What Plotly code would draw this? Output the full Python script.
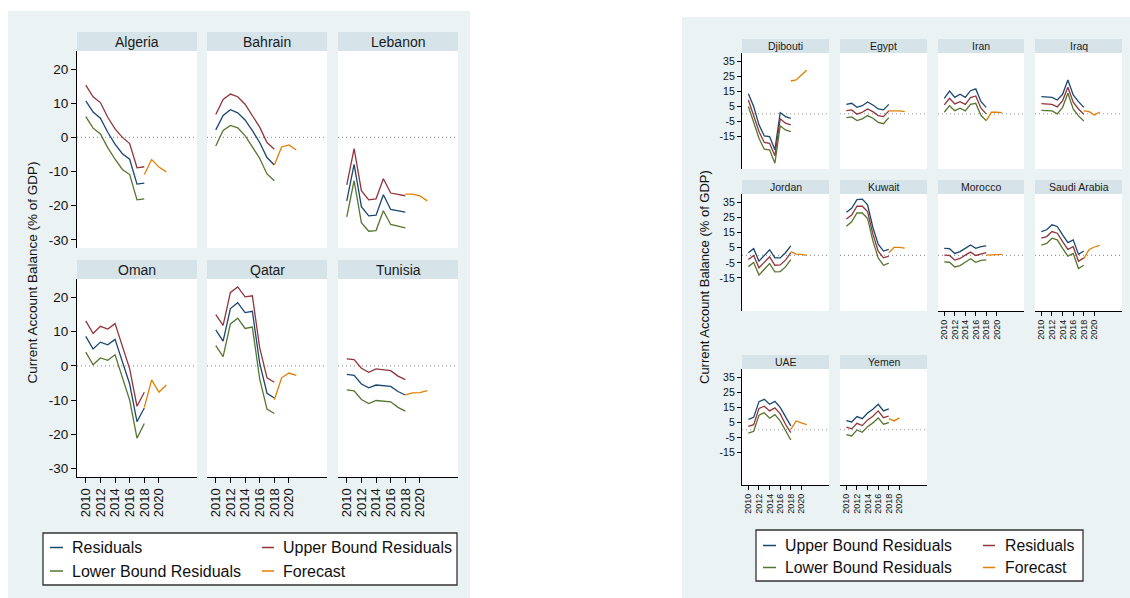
import plotly.graph_objects as go

W, H = 1130, 598
YEARS = list(range(2010, 2019))
FC_START = 2018

# ---------------- Left chart data ----------------
left_countries = ["Algeria", "Bahrain", "Lebanon", "Oman", "Qatar", "Tunisia"]
left_upper = {
    "Algeria": [15.3, 11.9, 10.2, 5.9, 2.5, 0.0, -1.8, -8.9, -8.6],
    "Bahrain": [6.7, 11.1, 12.7, 11.9, 9.7, 6.4, 3.0, -1.5, -3.5],
    "Lebanon": [-13.9, -3.3, -15.6, -18.3, -18.0, -12.1, -16.3, -16.8, -17.1],
    "Oman": [13.1, 9.4, 11.5, 10.7, 12.3, 5.5, -0.9, -11.8, -7.7],
    "Qatar": [14.9, 11.8, 21.4, 23.0, 20.1, 20.4, 5.3, -3.5, -4.8],
    "Tunisia": [2.0, 1.8, -0.7, -1.9, -0.9, -1.1, -1.4, -3.0, -4.0],
}
left_resid = {
    "Algeria": [10.7, 7.4, 5.6, 1.5, -2.0, -4.8, -6.4, -13.7, -13.4],
    "Bahrain": [2.2, 6.4, 8.1, 7.2, 5.1, 2.0, -1.5, -5.9, -8.1],
    "Lebanon": [-18.6, -7.9, -20.3, -23.0, -22.8, -16.8, -21.1, -21.5, -21.9],
    "Oman": [8.6, 4.9, 6.9, 6.1, 7.7, 1.1, -5.3, -16.3, -12.3],
    "Qatar": [10.5, 7.2, 16.7, 18.4, 15.5, 15.9, 0.8, -8.0, -9.4],
    "Tunisia": [-2.5, -2.8, -5.3, -6.4, -5.6, -5.7, -6.0, -7.5, -8.5],
}
left_lower = {
    "Algeria": [6.1, 2.7, 1.0, -3.0, -6.4, -9.4, -10.9, -18.3, -18.0],
    "Bahrain": [-2.5, 2.0, 3.5, 2.8, 0.5, -2.7, -6.1, -10.7, -12.7],
    "Lebanon": [-23.3, -12.7, -25.0, -27.5, -27.3, -21.5, -25.5, -26.1, -26.5],
    "Oman": [4.0, 0.3, 2.3, 1.6, 3.2, -3.5, -10.0, -21.1, -16.8],
    "Qatar": [5.9, 2.7, 12.2, 13.9, 10.9, 11.3, -3.8, -12.6, -13.9],
    "Tunisia": [-7.0, -7.3, -9.8, -11.0, -10.1, -10.2, -10.5, -12.1, -13.2],
}
left_forecast = {
    "Algeria": [-10.9, -6.5, -8.7, -10.1],
    "Bahrain": [-8.1, -2.8, -2.2, -3.7],
    "Lebanon": [-16.6, -16.6, -17.1, -18.6],
    "Oman": [-12.1, -4.1, -7.7, -5.6],
    "Qatar": [-9.9, -3.5, -2.1, -2.8],
    "Tunisia": [-8.5, -7.9, -7.8, -7.2],
}
left_yticks = [20, 10, 0, -10, -20, -30]

# ---------------- Right chart data ----------------
right_countries = ["Djibouti", "Egypt", "Iran", "Iraq", "Jordan", "Kuwait",
                   "Morocco", "Saudi Arabia", "UAE", "Yemen"]
right_upper = {
    "Djibouti": [13.4, 4.8, -7.4, -14.8, -15.2, -24.1, 0.8, -1.9, -3.0],
    "Egypt": [6.3, 7.0, 4.3, 5.4, 7.9, 5.9, 3.2, 2.6, 6.3],
    "Iran": [10.3, 15.2, 11.0, 13.0, 11.0, 15.4, 16.6, 8.1, 4.3],
    "Iraq": [11.4, 11.2, 11.0, 9.2, 13.0, 22.6, 12.6, 8.1, 4.3],
    "Jordan": [1.7, 4.4, -3.9, 0.1, 3.7, -1.7, -1.7, 1.7, 6.2],
    "Kuwait": [28.5, 31.1, 36.9, 37.2, 33.4, 18.4, 7.3, 2.8, 3.9],
    "Morocco": [4.6, 4.4, 1.2, 2.4, 4.6, 6.8, 4.6, 5.7, 6.2],
    "Saudi Arabia": [15.7, 16.9, 20.2, 19.1, 13.5, 8.4, 10.2, 0.6, 2.8],
    "UAE": [7.0, 8.3, 18.8, 20.3, 17.0, 19.0, 15.0, 8.3, 2.6],
    "Yemen": [6.1, 5.2, 8.8, 7.4, 11.2, 13.7, 17.0, 12.6, 13.9],
}
right_resid = {
    "Djibouti": [9.2, -0.8, -11.9, -19.2, -19.7, -28.1, -3.4, -6.3, -7.4],
    "Egypt": [2.1, 2.6, -0.3, 1.0, 3.2, 1.4, -1.2, -1.9, 1.9],
    "Iran": [5.9, 10.3, 6.6, 8.1, 6.3, 10.8, 11.9, 3.7, -0.1],
    "Iraq": [6.8, 6.6, 6.3, 4.6, 8.8, 17.7, 7.7, 3.2, -0.3],
    "Jordan": [-2.8, -0.1, -8.3, -4.6, -1.0, -6.6, -6.4, -3.2, 1.7],
    "Kuwait": [24.0, 26.7, 32.5, 32.5, 28.9, 14.0, 2.8, -1.7, -0.5],
    "Morocco": [0.1, -0.1, -3.2, -2.1, 0.1, 2.1, -0.1, 1.0, 1.7],
    "Saudi Arabia": [11.3, 12.4, 15.7, 14.6, 9.0, 3.9, 5.7, -3.9, -1.7],
    "UAE": [2.3, 3.4, 14.3, 15.7, 12.6, 14.6, 10.6, 3.7, -1.9],
    "Yemen": [1.7, 0.6, 4.3, 2.8, 6.6, 9.0, 12.6, 8.1, 9.2],
}
right_lower = {
    "Djibouti": [4.8, -5.2, -16.3, -23.7, -24.1, -33.0, -8.1, -10.8, -11.9],
    "Egypt": [-2.6, -2.1, -4.6, -3.4, -1.2, -3.0, -5.7, -6.6, -2.6],
    "Iran": [1.0, 5.4, 2.1, 3.7, 1.9, 6.3, 7.0, -1.2, -4.6],
    "Iraq": [2.3, 2.1, 1.9, -0.1, 4.3, 13.7, 3.2, -1.4, -4.8],
    "Jordan": [-7.5, -4.8, -13.1, -9.0, -5.4, -11.0, -10.8, -7.7, -2.8],
    "Kuwait": [19.3, 22.2, 28.0, 28.0, 24.4, 9.5, -1.7, -6.6, -5.2],
    "Morocco": [-4.4, -4.6, -7.7, -6.8, -4.6, -2.3, -4.6, -3.4, -3.0],
    "Saudi Arabia": [6.8, 7.9, 11.3, 10.2, 4.6, -0.6, 1.2, -8.8, -6.6],
    "UAE": [-2.3, -1.0, 9.7, 11.4, 7.7, 10.1, 5.9, -0.8, -6.8],
    "Yemen": [-3.2, -4.1, -0.1, -1.7, 2.1, 4.6, 7.9, 3.7, 4.8],
}
right_forecast = {
    "Djibouti": [21.9, 22.6, 25.9, 29.0],
    "Egypt": [1.9, 2.1, 1.9, 1.4],
    "Iran": [-4.6, 1.0, 1.0, 0.8],
    "Iraq": [1.9, 1.4, -0.8, 1.2],
    "Jordan": [2.4, 0.8, 0.6, -0.1],
    "Kuwait": [1.7, 5.3, 5.3, 4.8],
    "Morocco": [0.1, 0.1, 0.6, 0.6],
    "Saudi Arabia": [-2.3, 3.9, 5.5, 6.6],
    "UAE": [0.3, 5.9, 4.6, 3.4],
    "Yemen": [7.4, 5.9, 7.9],
}
right_yticks = [35, 25, 15, 5, -5, -15]
xticks = [2010, 2012, 2014, 2016, 2018, 2020]

# ---------------- Styling ----------------
BLUE, RED, GREEN, ORANGE = "#1a476f", "#90353b", "#55752f", "#e37e00"
BG = "#eaf2f3"
STRIP = "#d6e4ea"
FONT = "Liberation Sans, Arial, sans-serif"


def fx(px):
    return px / W


def fy(py):
    return 1 - py / H


fig = go.Figure()
shapes = []
annotations = []
layout_axes = {}

# backgrounds of the two panels
shapes.append(dict(type="rect", xref="paper", yref="paper", x0=fx(8), x1=fx(470),
                   y0=fy(598), y1=fy(11), fillcolor=BG, line_width=0, layer="below"))
shapes.append(dict(type="rect", xref="paper", yref="paper", x0=fx(682), x1=fx(1130),
                   y0=fy(598), y1=fy(17), fillcolor=BG, line_width=0, layer="below"))

XR = [2008.8, 2025.2]

panels = []
lcols = [(77, 197), (207, 327), (338, 458)]
lrows = [(32, 51, 248), (260, 279, 477)]
for i, c in enumerate(left_countries):
    r, k = divmod(i, 3)
    panels.append(dict(c=c, x0=lcols[k][0], x1=lcols[k][1], s0=lrows[r][0], p0=lrows[r][1],
                       p1=lrows[r][2], showy=(k == 0), showx=(r == 1), side="L"))
rcols = [(742, 829), (840, 927), (938, 1024), (1035, 1122)]
rrows = [(39, 53, 169), (180, 194, 311), (355, 369, 485)]
rshowx = {"Morocco", "Saudi Arabia", "UAE", "Yemen"}
for i, c in enumerate(right_countries):
    r, k = divmod(i, 4)
    panels.append(dict(c=c, x0=rcols[k][0], x1=rcols[k][1], s0=rrows[r][0], p0=rrows[r][1],
                       p1=rrows[r][2], showy=(k == 0), showx=(c in rshowx), side="R"))

for n, p in enumerate(panels, start=1):
    xa = "x" if n == 1 else f"x{n}"
    ya = "y" if n == 1 else f"y{n}"
    left = p["side"] == "L"
    c = p["c"]
    shapes.append(dict(type="rect", xref="paper", yref="paper", x0=fx(p["x0"]), x1=fx(p["x1"]),
                       y0=fy(p["p1"]), y1=fy(p["p0"]), fillcolor="white", line_width=0, layer="below"))
    shapes.append(dict(type="rect", xref="paper", yref="paper", x0=fx(p["x0"]), x1=fx(p["x1"]),
                       y0=fy(p["p0"]), y1=fy(p["s0"]), fillcolor=STRIP, line_width=0, layer="below"))
    annotations.append(dict(text=c, xref="paper", yref="paper", x=fx((p["x0"] + p["x1"]) / 2),
                            y=fy((p["s0"] + p["p0"]) / 2), xanchor="center", yanchor="middle",
                            showarrow=False,
                            font=dict(family=FONT, size=14 if left else 10.5, color="#1a1a1a")))
    shapes.append(dict(type="line", xref=f"{xa} domain", yref=ya, x0=0, x1=1, y0=0, y1=0,
                       line=dict(color="#9a9a9a", width=1.2, dash="1px,3px"), layer="below"))

    if left:
        up, md, lo, fc = left_upper[c], left_resid[c], left_lower[c], left_forecast[c]
        cols = (RED, BLUE, GREEN)
        yr = [-32.4, 25.3]
        yt = left_yticks
        tfs, xfs = 13.5, 13
    else:
        up, md, lo, fc = right_upper[c], right_resid[c], right_lower[c], right_forecast[c]
        cols = (BLUE, RED, GREEN)
        yr = [-36.9, 40.6]
        yt = right_yticks
        tfs, xfs = 10.5, 9
    for vals, col in zip((up, md, lo), cols):
        fig.add_trace(go.Scatter(x=YEARS, y=vals, mode="lines", xaxis=xa, yaxis=ya,
                                 line=dict(color=col, width=1.3), showlegend=False,
                                 hoverinfo="skip"))
    fig.add_trace(go.Scatter(x=[FC_START + j for j in range(len(fc))], y=fc, mode="lines",
                             xaxis=xa, yaxis=ya, line=dict(color=ORANGE, width=1.3),
                             showlegend=False, hoverinfo="skip"))

    xkey = "xaxis" if n == 1 else f"xaxis{n}"
    ykey = "yaxis" if n == 1 else f"yaxis{n}"
    layout_axes[xkey] = dict(domain=[fx(p["x0"]), fx(p["x1"])], range=XR, anchor=ya,
                             showgrid=False, zeroline=False, fixedrange=True,
                             showline=p["showx"], linecolor="black", linewidth=1.2,
                             ticks="outside" if p["showx"] else "", ticklen=5 if left else 4,
                             tickcolor="black", tickvals=xticks,
                             ticktext=[str(t) for t in xticks],
                             showticklabels=p["showx"], tickangle=-90,
                             tickfont=dict(family=FONT, size=xfs, color="#111"))
    layout_axes[ykey] = dict(domain=[fy(p["p1"]), fy(p["p0"])], range=yr, anchor=xa,
                             showgrid=False, zeroline=False, fixedrange=True,
                             showline=p["showy"], linecolor="black", linewidth=1.2,
                             ticks="outside" if p["showy"] else "", ticklen=5 if left else 4,
                             tickcolor="black", tickvals=yt, ticktext=[str(t) for t in yt],
                             showticklabels=p["showy"],
                             tickfont=dict(family=FONT, size=tfs, color="#111"))

annotations.append(dict(text="Current Account Balance (% of GDP)", xref="paper", yref="paper",
                        x=fx(31.5), y=fy(273), textangle=-90, showarrow=False,
                        xanchor="center", yanchor="middle",
                        font=dict(family=FONT, size=13.5, color="#111")))
annotations.append(dict(text="Current Account Balance (% of GDP)", xref="paper", yref="paper",
                        x=fx(704), y=fy(277), textangle=-90, showarrow=False,
                        xanchor="center", yanchor="middle",
                        font=dict(family=FONT, size=13, color="#111")))


def add_legend(box, entries, fs):
    bx0, bx1, by0, by1 = box
    shapes.append(dict(type="rect", xref="paper", yref="paper", x0=fx(bx0), x1=fx(bx1),
                       y0=fy(by1), y1=fy(by0), fillcolor="white",
                       line=dict(color="#333", width=1.3), layer="below"))
    for (lx0, lx1, tx, ty, label, col) in entries:
        shapes.append(dict(type="line", xref="paper", yref="paper", x0=fx(lx0), x1=fx(lx1),
                           y0=fy(ty), y1=fy(ty), line=dict(color=col, width=1.5)))
        annotations.append(dict(text=label, xref="paper", yref="paper", x=fx(tx), y=fy(ty),
                                xanchor="left", yanchor="middle", showarrow=False,
                                font=dict(family=FONT, size=fs, color="#111")))


add_legend((43, 457, 533, 585), [
    (50, 63, 70, 547.5, "Residuals", BLUE),
    (262, 274, 281, 547.5, "Upper Bound Residuals", RED),
    (50, 63, 70, 571, "Lower Bound Residuals", GREEN),
    (262, 274, 281, 571, "Forecast", ORANGE),
], 16)
add_legend((756, 1083, 530, 581), [
    (763, 776, 783, 545.5, "Upper Bound Residuals", BLUE),
    (983, 995, 1003, 545.5, "Residuals", RED),
    (763, 776, 783, 567.5, "Lower Bound Residuals", GREEN),
    (983, 995, 1003, 567.5, "Forecast", ORANGE),
], 15.8)

fig.update_layout(width=W, height=H, margin=dict(l=0, r=0, t=0, b=0),
                  paper_bgcolor="white", plot_bgcolor="rgba(0,0,0,0)",
                  showlegend=False, shapes=shapes, annotations=annotations,
                  font=dict(family=FONT), **layout_axes)

fig.write_html("out.html", config={"displayModeBar": False},
               post_script="document.body.style.margin='0';document.body.style.overflow='hidden';")
